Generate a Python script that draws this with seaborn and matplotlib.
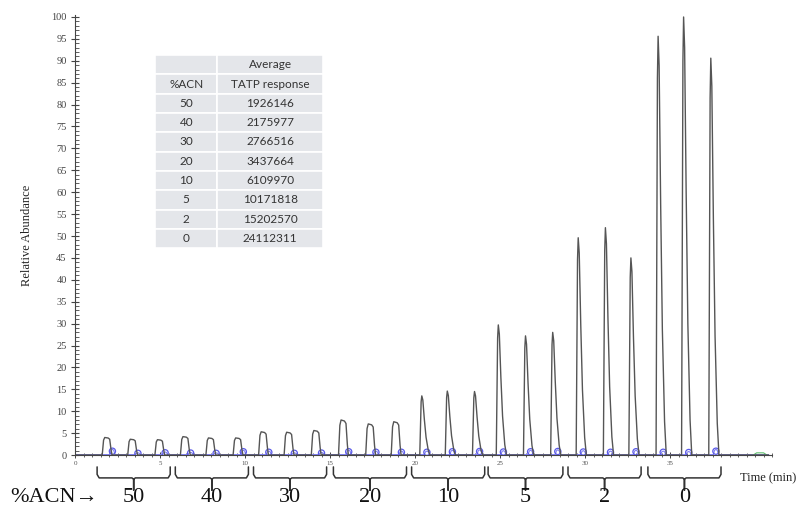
import numpy as np
import pandas as pd
import seaborn as sns
import matplotlib.pyplot as plt
from matplotlib.ticker import MultipleLocator
import matplotlib.transforms as mtransforms

# Peak data (time in min, relative abundance)
groups = ['50', '40', '30', '20', '10', '5', '2', '0']
peak_times = [1.9, 3.4, 5.0, 6.5, 8.0, 9.6, 11.1, 12.6, 14.2, 15.8, 17.4, 18.9,
              20.4, 21.9, 23.5, 24.9, 26.5, 28.1, 29.6, 31.2, 32.7, 34.3, 35.8, 37.4]
peak_heights = [4.0, 3.6, 3.5, 4.2, 3.9, 3.9, 5.3, 5.2, 5.6, 8.0, 7.1, 7.6,
                13.5, 14.6, 14.5, 29.7, 27.2, 28.0, 49.6, 51.9, 45.0, 95.6, 100.0, 90.6]
blue_heights = [1.2, 0.4, 0.6, 0.5, 0.4, 1.0, 0.8, 0.4, 0.5, 1.0, 0.8, 0.8,
                0.8, 1.0, 1.1, 0.9, 1.0, 1.1, 0.9, 0.8, 1.0, 0.8, 0.7, 1.2]

# Table in the inset
table_acn = ['50', '40', '30', '20', '10', '5', '2', '0']
table_response = ['1926146', '2175977', '2766516', '3437664',
                  '6109970', '10171818', '15202570', '24112311']

# peak shape templates (offset in min, fraction of height)
flat_shape = [(-0.30, 0.0), (-0.22, 0.85), (-0.15, 1.0), (0.05, 0.97),
              (0.14, 0.9), (0.22, 0.3), (0.28, 0.0)]
sharp_shape = [(-0.12, 0.0), (-0.04, 0.9), (0.0, 1.0), (0.06, 0.93),
               (0.15, 0.6), (0.25, 0.3), (0.38, 0.08), (0.48, 0.0)]

xs, ys = [0.0], [0.0]
for t, h in zip(peak_times, peak_heights):
    shape = flat_shape if h < 10 else sharp_shape
    for dx, f in shape:
        xs.append(t + dx)
        ys.append(h * f)
xs.append(40.8)
ys.append(0.0)
trace = pd.DataFrame({'time': xs, 'abundance': ys})

bx, by = [0.0], [0.1]
for t, h in zip(peak_times, blue_heights):
    c = t + 0.3
    for dx, f in [(-0.15, 0.0), (-0.08, 0.8), (0.0, 1.0), (0.08, 0.8), (0.15, 0.0)]:
        bx.append(c + dx)
        by.append(0.1 + h * f)
bx.append(40.8)
by.append(0.1)
blue = pd.DataFrame({'time': bx, 'abundance': by})
blue_marks = pd.DataFrame({'time': [t + 0.3 for t in peak_times],
                           'abundance': [0.15 + h * 0.6 for h in blue_heights]})

sns.set_theme(style='ticks')
serif = ['Liberation Serif', 'DejaVu Serif']

fig = plt.figure(figsize=(8.04, 5.12), dpi=100)
ax = fig.add_axes([0.0933, 0.1113, 0.8669, 0.8598])

sns.lineplot(data=blue, x='time', y='abundance', sort=False, estimator=None,
             color='#8080f0', lw=0.8, ax=ax, zorder=1)
sns.scatterplot(data=blue_marks, x='time', y='abundance', marker='o', s=20,
                facecolor='none', edgecolor='#5a5ae8', linewidth=0.9, ax=ax, zorder=2)
sns.lineplot(data=trace, x='time', y='abundance', sort=False, estimator=None,
             color='#555555', lw=1.0, ax=ax, zorder=3)
ax.plot([39.9, 40.1, 40.5, 40.7], [0.0, 0.5, 0.5, 0.0], color='#5fbf6f', lw=0.8)

ax.set_xlim(0, 41)
ax.set_ylim(0, 100.5)
ax.set_xlabel('')
ax.set_ylabel('')
ax.yaxis.set_major_locator(MultipleLocator(5))
ax.yaxis.set_minor_locator(MultipleLocator(1))
ax.xaxis.set_major_locator(MultipleLocator(5))
ax.xaxis.set_minor_locator(MultipleLocator(0.5))
ax.tick_params(axis='y', which='major', direction='inout', length=6, width=0.8,
               labelsize=7.5, labelcolor='#444444', color='#444444', pad=3)
ax.tick_params(axis='y', which='minor', direction='in', length=3, width=0.6, color='#444444')
ax.tick_params(axis='x', which='major', direction='inout', length=5, width=0.7,
               labelsize=5, labelcolor='#555555', color='#444444', pad=2)
ax.tick_params(axis='x', which='minor', direction='inout', length=3, width=0.6, color='#444444')
ax.set_xticks([0, 5, 10, 15, 20, 25, 30, 35])
for lab in ax.get_xticklabels() + ax.get_yticklabels():
    lab.set_family(serif)
sns.despine(ax=ax)
for side in ['left', 'bottom']:
    ax.spines[side].set_color('#444444')
    ax.spines[side].set_linewidth(0.8)
    ax.spines[side].set_zorder(4)

fig.text(27 / 804, 1 - 235 / 512, 'Relative Abundance', rotation=90, ha='center',
         va='center', fontsize=9, family=serif, color='#222222')
fig.text(740 / 804, 1 - 478 / 512, 'Time (min)', ha='left', va='center',
         fontsize=9, family=serif, color='#222222')

# brackets under each group of three injections
trans = mtransforms.blended_transform_factory(ax.transData, ax.transAxes)
for i, g in enumerate(groups):
    x0 = peak_times[3 * i] - 0.6
    x1 = peak_times[3 * i + 2] + 0.6
    xc = (x0 + x1) / 2
    bxs = [x0, x0, x0 + 0.12, xc - 0.1, xc, xc, xc, xc + 0.1, x1 - 0.12, x1, x1]
    bys = [-0.027, -0.044, -0.052, -0.052, -0.055, -0.080, -0.055, -0.052, -0.052, -0.044, -0.027]
    ax.plot(bxs, bys, color='#333333', lw=1.1, transform=trans, clip_on=False)
    ax.text(xc, -0.096, g, transform=trans, ha='center', va='center',
            fontsize=16, family=serif, color='#111111')
fig.text(10 / 804, 1 - 497 / 512, '%ACN\u2192', ha='left', va='center',
         fontsize=16, family=serif, color='#111111')

# inset table
cells = [['', 'Average'], ['%ACN', 'TATP response']] + \
        [[a, r] for a, r in zip(table_acn, table_response)]
tbl = ax.table(cellText=cells, cellLoc='center', colWidths=[0.37, 0.63],
               bbox=[0.115, 0.470, 0.241, 0.4384])
tbl.auto_set_font_size(False)
for (r, c), cell in tbl.get_celld().items():
    cell.set_facecolor('#e4e6ea')
    cell.set_edgecolor('white')
    cell.set_linewidth(1.2)
    cell.get_text().set_fontsize(8.5)
    cell.get_text().set_color('#333333')
    cell.get_text().set_family(['Lato', 'DejaVu Sans'])

fig.savefig('out.png', dpi=100)
